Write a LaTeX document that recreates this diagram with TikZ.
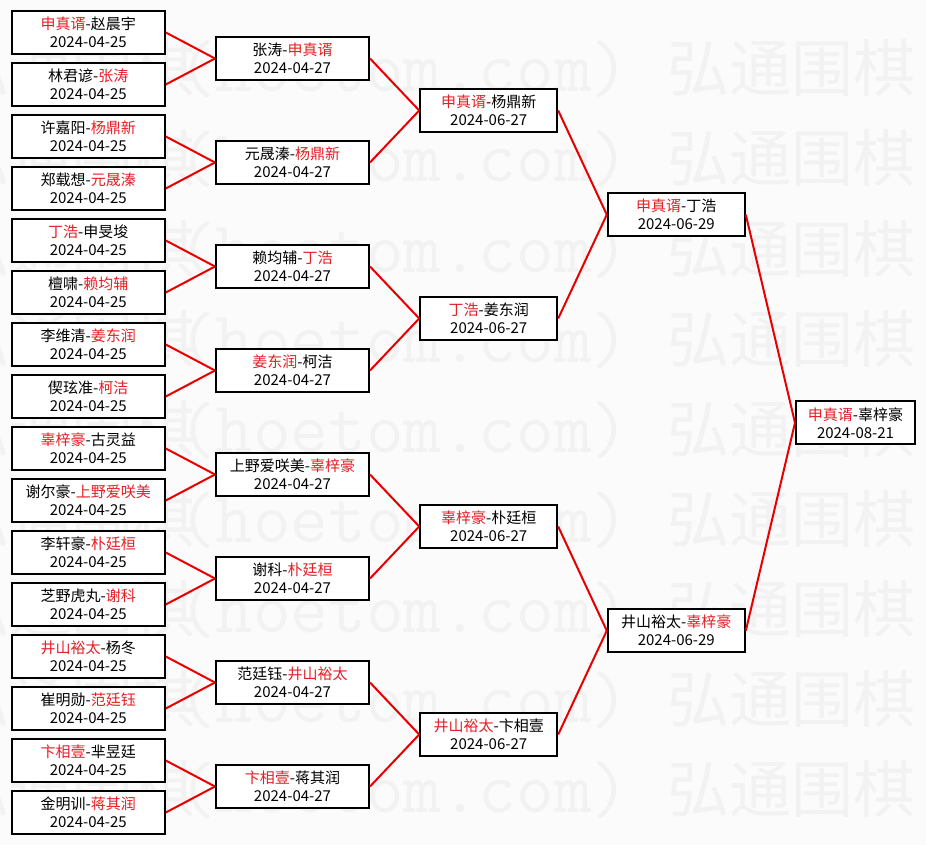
\documentclass[tikz,border=0pt]{standalone}
\usepackage{fontspec}
\setmainfont{Noto Sans CJK SC}
\definecolor{namered}{RGB}{228,32,38}
\definecolor{linkred}{RGB}{232,0,0}
\definecolor{wmgray}{RGB}{242,242,242}
\definecolor{bggray}{RGB}{251,251,251}
\newcommand{\win}[1]{\textcolor{namered}{#1}}
\tikzset{
  mbox/.style={draw=black, line width=2pt, fill=white, inner sep=0pt,
    minimum height=43pt, align=center, font=\fontsize{15}{18}\selectfont},
  wa/.style={mbox, minimum width=153pt},
  wb/.style={mbox, minimum width=153pt},
  wc/.style={mbox, minimum width=137pt},
  wd/.style={mbox, minimum width=137pt},
  we/.style={mbox, minimum width=119pt},
  link/.style={draw=linkred, line width=2pt},
  wmcjk/.style={inner sep=0pt, text=wmgray, font=\fontsize{62}{62}\selectfont},
  wmlat/.style={inner sep=0pt, text=wmgray, font=\ttfamily\fontsize{73}{73}\selectfont},
}
\begin{document}
\begin{tikzpicture}[x=1pt,y=-1pt]
\fill[bggray] (0,0) rectangle (926,845);
\useasboundingbox (0,0) rectangle (926,845);
% watermark
\foreach \k in {0,...,8}{
  \pgfmathsetmacro\bl{92+90*\k}
  \node[wmcjk, anchor=base east] (wmL\k) at (196,\bl) {弘通围棋};
  \node[wmlat, anchor=base west] (wmM\k) at (178,\bl) {(hoetom.com)};
  \node[wmcjk, anchor=base west] (wmR\k) at (667,\bl) {弘通围棋};
}
% round 1
\node[wa] (a1)  at (88.3, 32.5) {\win{申真谞}-赵晨宇\\2024-04-25};
\node[wa] (a2)  at (88.3, 84.5) {林君谚-\win{张涛}\\2024-04-25};
\node[wa] (a3)  at (88.3,136.5) {许嘉阳-\win{杨鼎新}\\2024-04-25};
\node[wa] (a4)  at (88.3,188.5) {郑载想-\win{元晟溱}\\2024-04-25};
\node[wa] (a5)  at (88.3,240.5) {\win{丁浩}-申旻埈\\2024-04-25};
\node[wa] (a6)  at (88.3,292.5) {檀啸-\win{赖均辅}\\2024-04-25};
\node[wa] (a7)  at (88.3,344.5) {李维清-\win{姜东润}\\2024-04-25};
\node[wa] (a8)  at (88.3,396.5) {偰玹准-\win{柯洁}\\2024-04-25};
\node[wa] (a9)  at (88.3,448.5) {\win{辜梓豪}-古灵益\\2024-04-25};
\node[wa] (a10) at (88.3,500.5) {谢尔豪-\win{上野爱咲美}\\2024-04-25};
\node[wa] (a11) at (88.3,552.5) {李轩豪-\win{朴廷桓}\\2024-04-25};
\node[wa] (a12) at (88.3,604.5) {芝野虎丸-\win{谢科}\\2024-04-25};
\node[wa] (a13) at (88.3,656.5) {\win{井山裕太}-杨冬\\2024-04-25};
\node[wa] (a14) at (88.3,708.5) {崔明勋-\win{范廷钰}\\2024-04-25};
\node[wa] (a15) at (88.3,760.5) {\win{卞相壹}-芈昱廷\\2024-04-25};
\node[wa] (a16) at (88.3,812.5) {金明训-\win{蒋其润}\\2024-04-25};
% round 2
\node[wb] (b1) at (292.5, 58.5) {张涛-\win{申真谞}\\2024-04-27};
\node[wb] (b2) at (292.5,162.5) {元晟溱-\win{杨鼎新}\\2024-04-27};
\node[wb] (b3) at (292.5,266.5) {赖均辅-\win{丁浩}\\2024-04-27};
\node[wb] (b4) at (292.5,370.5) {\win{姜东润}-柯洁\\2024-04-27};
\node[wb] (b5) at (292.5,474.5) {上野爱咲美-\win{辜梓豪}\\2024-04-27};
\node[wb] (b6) at (292.5,578.5) {谢科-\win{朴廷桓}\\2024-04-27};
\node[wb] (b7) at (292.5,682.5) {范廷钰-\win{井山裕太}\\2024-04-27};
\node[wb] (b8) at (292.5,786.5) {\win{卞相壹}-蒋其润\\2024-04-27};
% round 3
\node[wc] (c1) at (488.7,110.5) {\win{申真谞}-杨鼎新\\2024-06-27};
\node[wc] (c2) at (488.7,318.5) {\win{丁浩}-姜东润\\2024-06-27};
\node[wc] (c3) at (488.7,526.5) {\win{辜梓豪}-朴廷桓\\2024-06-27};
\node[wc] (c4) at (488.7,734.5) {\win{井山裕太}-卞相壹\\2024-06-27};
% semis
\node[wd] (d1) at (676.3,214.7) {\win{申真谞}-丁浩\\2024-06-29};
\node[wd] (d2) at (676.3,630.7) {井山裕太-\win{辜梓豪}\\2024-06-29};
% final
\node[we] (e1) at (855.5,422.8) {\win{申真谞}-辜梓豪\\2024-08-21};
% connectors
\foreach \i in {1,...,8}{
  \pgfmathtruncatemacro\ja{2*\i-1}
  \pgfmathtruncatemacro\jb{2*\i}
  \draw[link] (a\ja.east) -- (b\i.west);
  \draw[link] (a\jb.east) -- (b\i.west);
}
\foreach \i in {1,...,4}{
  \pgfmathtruncatemacro\ja{2*\i-1}
  \pgfmathtruncatemacro\jb{2*\i}
  \draw[link] (b\ja.east) -- (c\i.west);
  \draw[link] (b\jb.east) -- (c\i.west);
}
\foreach \i in {1,2}{
  \pgfmathtruncatemacro\ja{2*\i-1}
  \pgfmathtruncatemacro\jb{2*\i}
  \draw[link] (c\ja.east) -- (d\i.west);
  \draw[link] (c\jb.east) -- (d\i.west);
}
\draw[link] (d1.east) -- (e1.west);
\draw[link] (d2.east) -- (e1.west);
\end{tikzpicture}
\end{document}
